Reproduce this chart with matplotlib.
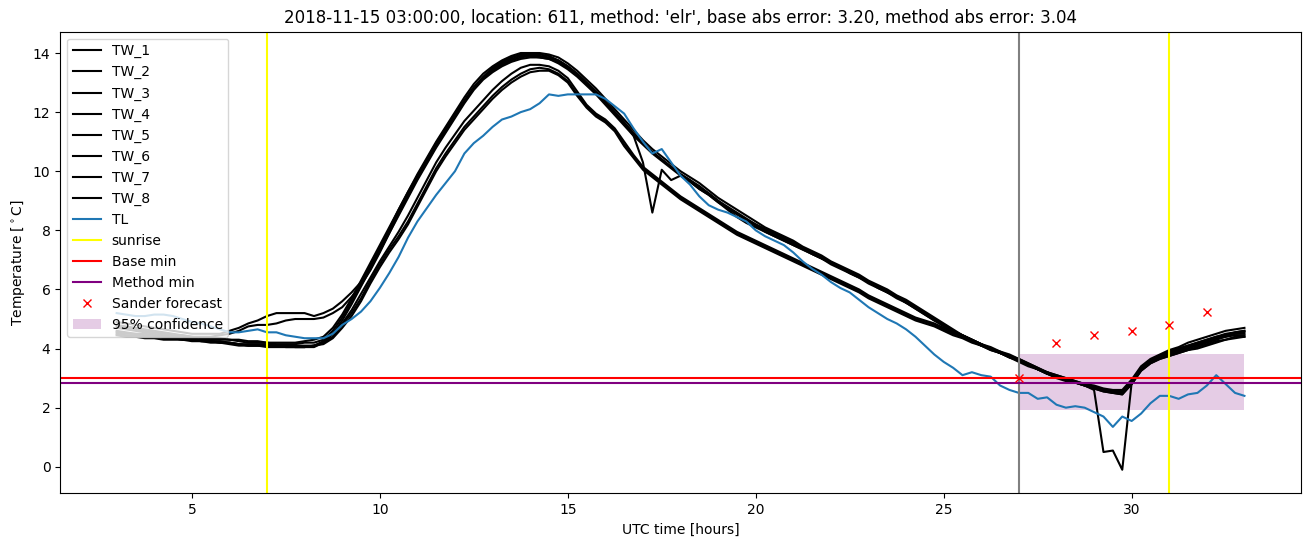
import numpy as np
import matplotlib
matplotlib.use("Agg")
import matplotlib.pyplot as plt

# time grid, every 15 minutes from 03:00 to 33:00
hours = np.arange(3, 33.01, 0.25)

tw_1 = [4.9, 4.85, 4.8, 4.75, 4.7, 4.65, 4.6, 4.55,
        4.5, 4.5, 4.5, 4.5, 4.6, 4.7, 4.85, 4.95,
        5.1, 5.2, 5.2, 5.2, 5.2, 5.1, 5.2, 5.35,
        5.6, 5.9, 6.25, 6.75, 7.35, 8.05, 8.7, 9.3,
        9.9, 10.45, 11.0, 11.5, 12.0, 12.5, 12.95, 13.3,
        13.55, 13.75, 13.9, 14.0, 14.0, 14.0, 13.95, 13.85,
        13.65, 13.4, 13.1, 12.8, 12.45, 12.1, 11.75, 11.4,
        11.05, 10.75, 10.5, 10.25, 10.0, 9.8, 9.6, 9.35,
        9.1, 8.9, 8.7, 8.5, 8.3, 8.1, 7.95, 7.8,
        7.65, 7.45, 7.3, 7.15, 6.95, 6.8, 6.65, 6.5,
        6.3, 6.15, 6.0, 5.8, 5.65, 5.45, 5.25, 5.05,
        4.85, 4.65, 4.45, 4.3, 4.15, 4.0, 3.9, 3.75,
        3.65, 3.5, 3.35, 3.2, 3.1, 3.0, 2.9, 2.8,
        2.75, 2.65, 2.6, 2.6, 2.95, 3.4, 3.65, 3.8,
        3.95, 4.05, 4.2, 4.3, 4.4, 4.5, 4.6, 4.65,
        4.7]
tw_2 = [4.8, 4.75, 4.7, 4.65, 4.6, 4.55, 4.5, 4.45,
        4.4, 4.4, 4.4, 4.45, 4.5, 4.6, 4.75, 4.8,
        4.8, 4.85, 4.95, 5.0, 5.0, 5.0, 5.05, 5.2,
        5.4, 5.75, 6.15, 6.65, 7.25, 7.9, 8.55, 9.15,
        9.75, 10.3, 10.85, 11.35, 11.85, 12.35, 12.8, 13.15,
        13.45, 13.65, 13.8, 13.9, 13.9, 13.9, 13.85, 13.75,
        13.55, 13.3, 13.0, 12.7, 12.35, 12.0, 11.65, 11.3,
        10.95, 10.65, 10.4, 10.15, 9.9, 9.7, 9.5, 9.25,
        9.0, 8.8, 8.6, 8.4, 8.2, 8.05, 7.9, 7.75,
        7.6, 7.4, 7.25, 7.1, 6.9, 6.75, 6.6, 6.45,
        6.25, 6.1, 5.95, 5.75, 5.6, 5.4, 5.2, 5.0,
        4.8, 4.6, 4.45, 4.3, 4.15, 4.0, 3.85, 3.75,
        3.6, 3.45, 3.3, 3.2, 3.05, 2.95, 2.85, 2.8,
        2.7, 2.6, 2.55, 2.55, 2.9, 3.35, 3.6, 3.75,
        3.9, 4.0, 4.1, 4.2, 4.3, 4.4, 4.5, 4.55,
        4.6]
tw_3 = [4.7, 4.65, 4.6, 4.55, 4.5, 4.45, 4.4, 4.4,
        4.35, 4.3, 4.3, 4.3, 4.3, 4.25, 4.2, 4.2,
        4.2, 4.15, 4.15, 4.15, 4.2, 4.2, 4.3, 4.6,
        5.05, 5.6, 6.2, 6.8, 7.4, 8.0, 8.6, 9.2,
        9.8, 10.35, 10.9, 11.4, 11.9, 12.35, 12.8, 13.15,
        13.4, 13.6, 13.75, 13.85, 13.9, 13.85, 13.8, 13.7,
        13.5, 13.25, 12.95, 12.65, 12.3, 11.95, 11.6, 11.25,
        10.95, 10.65, 10.4, 10.15, 9.9, 9.7, 9.45, 9.25,
        9.0, 8.75, 8.55, 8.35, 8.2, 8.0, 7.85, 7.7,
        7.55, 7.4, 7.2, 7.05, 6.9, 6.75, 6.55, 6.4,
        6.25, 6.05, 5.9, 5.75, 5.55, 5.35, 5.15, 4.95,
        4.8, 4.6, 4.4, 4.25, 4.1, 4.0, 3.85, 3.7,
        3.6, 3.45, 3.3, 3.15, 3.0, 2.9, 2.85, 2.75,
        2.65, 2.55, 2.5, 2.5, 2.8, 3.3, 3.55, 3.7,
        3.85, 3.95, 4.05, 4.15, 4.25, 4.35, 4.4, 4.5,
        4.5]
tw_4 = [4.6, 4.55, 4.5, 4.5, 4.45, 4.4, 4.35, 4.35,
        4.3, 4.3, 4.25, 4.25, 4.2, 4.15, 4.1, 4.1,
        4.1, 4.1, 4.1, 4.1, 4.1, 4.1, 4.2, 4.5,
        4.95, 5.5, 6.1, 6.7, 7.3, 7.9, 8.5, 9.1,
        9.7, 10.25, 10.8, 11.3, 11.8, 12.3, 12.75, 13.1,
        13.35, 13.55, 13.7, 13.8, 13.85, 13.85, 13.8, 13.65,
        13.45, 13.2, 12.9, 12.6, 12.25, 11.9, 11.55, 11.2,
        10.9, 10.6, 10.35, 10.1, 9.85, 9.65, 9.4, 9.2,
        8.95, 8.75, 8.55, 8.35, 8.15, 7.95, 7.8, 7.65,
        7.5, 7.35, 7.2, 7.05, 6.85, 6.7, 6.55, 6.4,
        6.2, 6.05, 5.9, 5.7, 5.55, 5.35, 5.15, 4.95,
        4.75, 4.55, 4.4, 4.25, 4.1, 3.95, 3.85, 3.7,
        3.6, 3.45, 3.3, 3.15, 3.05, 2.95, 2.85, 2.75,
        2.6, 0.5, 0.55, -0.1, 2.85, 3.35, 3.6, 3.75,
        3.9, 4.0, 4.1, 4.2, 4.3, 4.4, 4.45, 4.55,
        4.6]
tw_5 = [4.55, 4.5, 4.5, 4.45, 4.4, 4.4, 4.35, 4.3,
        4.3, 4.25, 4.25, 4.2, 4.2, 4.15, 4.15, 4.15,
        4.15, 4.1, 4.1, 4.05, 4.05, 4.1, 4.25, 4.5,
        4.85, 5.3, 5.85, 6.4, 6.95, 7.45, 7.95, 8.5,
        9.1, 9.7, 10.3, 10.8, 11.25, 11.7, 12.05, 12.4,
        12.75, 13.05, 13.3, 13.5, 13.6, 13.6, 13.55, 13.4,
        13.15, 12.7, 12.25, 11.95, 11.75, 11.45, 11.0, 10.55,
        10.15, 9.9, 9.65, 9.4, 9.15, 8.95, 8.75, 8.55,
        8.35, 8.15, 7.95, 7.8, 7.65, 7.5, 7.35, 7.2,
        7.05, 6.9, 6.75, 6.6, 6.45, 6.3, 6.15, 6.0,
        5.8, 5.65, 5.5, 5.35, 5.2, 5.05, 4.95, 4.85,
        4.7, 4.55, 4.45, 4.3, 4.15, 4.05, 3.9, 3.8,
        3.65, 3.5, 3.35, 3.2, 3.1, 3.0, 2.9, 2.8,
        2.7, 2.6, 2.55, 2.5, 2.85, 3.3, 3.55, 3.7,
        3.8, 3.9, 4.0, 4.1, 4.2, 4.3, 4.4, 4.45,
        4.45]
tw_6 = [4.75, 4.7, 4.65, 4.6, 4.55, 4.5, 4.45, 4.45,
        4.4, 4.35, 4.35, 4.35, 4.3, 4.3, 4.25, 4.25,
        4.2, 4.2, 4.2, 4.2, 4.25, 4.3, 4.4, 4.7,
        5.15, 5.7, 6.3, 6.9, 7.5, 8.1, 8.7, 9.3,
        9.85, 10.4, 10.95, 11.45, 11.95, 12.4, 12.85, 13.2,
        13.5, 13.7, 13.85, 13.95, 13.95, 13.95, 13.9, 13.75,
        13.55, 13.3, 13.0, 12.7, 12.35, 12.0, 11.65, 11.2,
        10.3, 8.6, 10.05, 9.7, 9.85, 9.65, 9.4, 9.2,
        8.95, 8.7, 8.45, 8.25, 8.1, 7.95, 7.8, 7.65,
        7.5, 7.35, 7.2, 7.05, 6.9, 6.75, 6.6, 6.45,
        6.25, 6.1, 5.9, 5.75, 5.55, 5.4, 5.2, 5.0,
        4.8, 4.6, 4.45, 4.3, 4.15, 4.0, 3.85, 3.75,
        3.6, 3.45, 3.3, 3.15, 3.05, 2.95, 2.85, 2.75,
        2.65, 2.6, 2.55, 2.5, 2.9, 3.35, 3.6, 3.75,
        3.85, 3.95, 4.05, 4.15, 4.25, 4.35, 4.45, 4.5,
        4.55]
tw_7 = [4.5, 4.45, 4.45, 4.4, 4.4, 4.35, 4.35, 4.3,
        4.3, 4.25, 4.25, 4.2, 4.2, 4.15, 4.1, 4.1,
        4.1, 4.1, 4.05, 4.05, 4.05, 4.05, 4.2, 4.4,
        4.8, 5.2, 5.7, 6.3, 6.85, 7.35, 7.8, 8.3,
        8.9, 9.5, 10.1, 10.6, 11.05, 11.5, 11.85, 12.2,
        12.55, 12.85, 13.1, 13.3, 13.45, 13.5, 13.45, 13.3,
        13.05, 12.6, 12.2, 11.9, 11.7, 11.4, 10.9, 10.5,
        10.1, 9.85, 9.6, 9.35, 9.1, 8.9, 8.7, 8.5,
        8.3, 8.1, 7.9, 7.75, 7.6, 7.45, 7.3, 7.15,
        7.0, 6.85, 6.7, 6.55, 6.4, 6.25, 6.1, 5.95,
        5.75, 5.6, 5.45, 5.3, 5.15, 5.0, 4.9, 4.8,
        4.65, 4.5, 4.4, 4.25, 4.1, 4.0, 3.85, 3.75,
        3.6, 3.45, 3.3, 3.2, 3.05, 2.95, 2.85, 2.8,
        2.7, 2.6, 2.5, 2.45, 2.8, 3.25, 3.5, 3.65,
        3.75, 3.85, 3.95, 4.05, 4.15, 4.25, 4.3, 4.4,
        4.4]
tw_8 = [4.45, 4.4, 4.4, 4.35, 4.35, 4.3, 4.3, 4.3,
        4.25, 4.25, 4.2, 4.2, 4.15, 4.1, 4.1, 4.1,
        4.05, 4.05, 4.05, 4.05, 4.05, 4.1, 4.15, 4.35,
        4.7, 5.1, 5.6, 6.2, 6.75, 7.25, 7.7, 8.2,
        8.8, 9.4, 10.0, 10.5, 10.95, 11.4, 11.75, 12.1,
        12.45, 12.75, 13.0, 13.2, 13.35, 13.4, 13.4, 13.25,
        13.0, 12.55, 12.15, 11.85, 11.65, 11.35, 10.85, 10.45,
        10.05, 9.8, 9.55, 9.3, 9.05, 8.85, 8.65, 8.45,
        8.25, 8.05, 7.85, 7.7, 7.55, 7.4, 7.25, 7.1,
        6.95, 6.8, 6.65, 6.5, 6.35, 6.2, 6.05, 5.9,
        5.7, 5.55, 5.4, 5.25, 5.1, 4.95, 4.85, 4.75,
        4.6, 4.45, 4.35, 4.2, 4.1, 3.95, 3.85, 3.7,
        3.55, 3.4, 3.3, 3.15, 3.05, 2.95, 2.85, 2.75,
        2.65, 2.55, 2.5, 2.45, 2.8, 3.25, 3.5, 3.65,
        3.75, 3.85, 3.95, 4.0, 4.1, 4.2, 4.3, 4.35,
        4.4]
tl = [5.2, 5.15, 5.1, 5.1, 5.15, 5.15, 5.1, 5.0,
      4.9, 4.85, 4.75, 4.65, 4.55, 4.55, 4.6, 4.65,
      4.55, 4.55, 4.45, 4.4, 4.35, 4.35, 4.35, 4.5,
      4.8, 5.0, 5.25, 5.6, 6.05, 6.55, 7.1, 7.75,
      8.3, 8.75, 9.2, 9.6, 10.0, 10.6, 10.95, 11.2,
      11.5, 11.75, 11.85, 12.0, 12.1, 12.3, 12.6, 12.55,
      12.6, 12.6, 12.6, 12.6, 12.45, 12.2, 11.95, 11.45,
      11.0, 10.6, 10.75, 10.3, 9.85, 9.55, 9.15, 8.85,
      8.7, 8.6, 8.45, 8.3, 8.0, 7.8, 7.65, 7.5,
      7.25, 6.95, 6.7, 6.5, 6.25, 6.05, 5.9, 5.65,
      5.4, 5.2, 5.0, 4.85, 4.65, 4.4, 4.1, 3.8,
      3.55, 3.35, 3.1, 3.2, 3.1, 3.05, 2.75, 2.6,
      2.5, 2.5, 2.3, 2.35, 2.1, 2.0, 2.05, 2.0,
      1.85, 1.7, 1.35, 1.7, 1.55, 1.8, 2.15, 2.4,
      2.4, 2.3, 2.45, 2.5, 2.75, 3.1, 2.8, 2.5,
      2.4]

tw_series = [tw_1, tw_2, tw_3, tw_4, tw_5, tw_6, tw_7, tw_8]

sunrise_hours = [7, 31]
forecast_start = 27
base_min = 3.02
method_min = 2.85
sander_hours = [27, 28, 29, 30, 31, 32]
sander_temps = [3.0, 4.2, 4.45, 4.6, 4.8, 5.25]
conf_hours = [27, 33]
conf_low = 1.92
conf_high = 3.8

fig = plt.figure(figsize=(13.1, 5.47), dpi=100)
ax = fig.add_axes([0.046, 0.098, 0.947, 0.844])

for i, tw in enumerate(tw_series):
    ax.plot(hours, tw, color="black", label=f"TW_{i + 1}")
ax.plot(hours, tl, color="tab:blue", label="TL")

ax.axvline(sunrise_hours[0], color="yellow", label="sunrise")
ax.axvline(sunrise_hours[1], color="yellow")
ax.axvline(forecast_start, color="gray")
ax.axhline(base_min, color="red", label="Base min")
ax.axhline(method_min, color="purple", label="Method min")
ax.plot(sander_hours, sander_temps, "x", color="red", label="Sander forecast")
ax.fill_between(conf_hours, conf_low, conf_high, color="purple", alpha=0.2,
                linewidth=0, label="95% confidence")

ax.set_xlim(1.5, 34.5)
ax.set_ylim(-0.9, 14.72)
ax.set_xlabel("UTC time [hours]")
ax.set_ylabel("Temperature [$^\\circ$C]")
ax.set_title("2018-11-15 03:00:00, location: 611, method: 'elr', "
             "base abs error: 3.20, method abs error: 3.04")
ax.legend(loc="upper left")

plt.savefig("out.png")
